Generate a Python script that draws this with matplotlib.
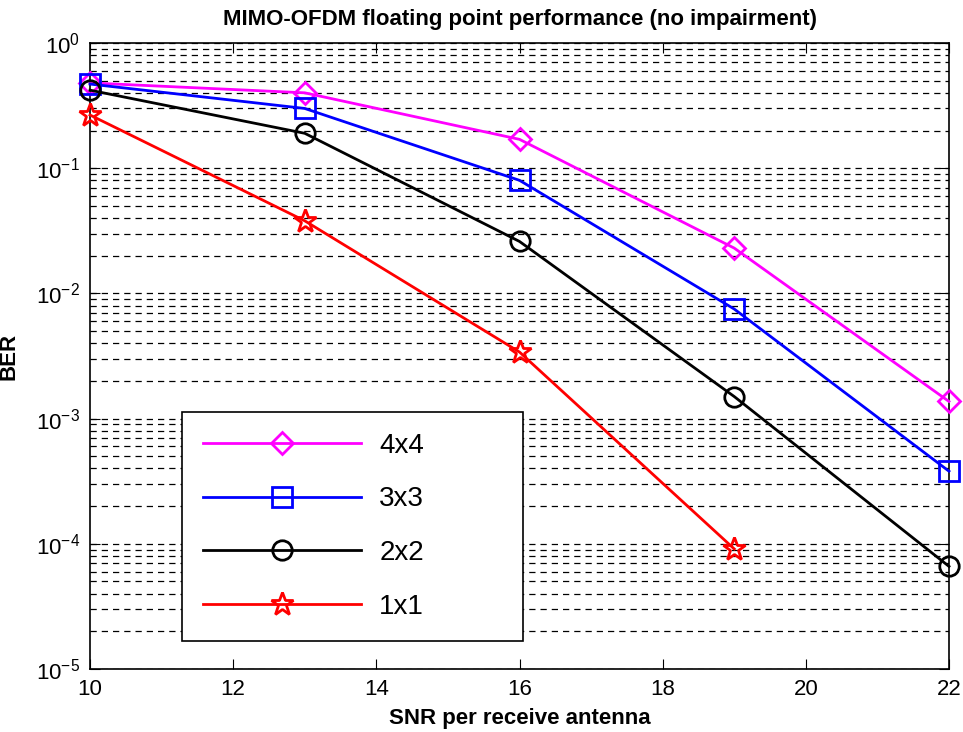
import numpy as np
import matplotlib
matplotlib.use('Agg')
import matplotlib.pyplot as plt
from matplotlib.ticker import LogLocator

plt.rcParams['font.family'] = ['Liberation Sans', 'DejaVu Sans']
plt.rcParams['mathtext.fontset'] = 'custom'
plt.rcParams['mathtext.rm'] = 'Liberation Sans'
plt.rcParams['mathtext.it'] = 'Liberation Sans'

# SNR points (dB) and BER
snr = [10, 13, 16, 19, 22]
snr_1x1 = [10, 13, 16, 19]

ber_4x4 = [0.48, 0.40, 0.17, 0.023, 1.37e-3]
ber_3x3 = [0.47, 0.30, 0.080, 0.0075, 3.8e-4]
ber_2x2 = [0.42, 0.19, 0.026, 1.5e-3, 6.6e-5]
ber_1x1 = [0.266, 0.038, 3.4e-3, 9.1e-5]

fig = plt.figure(figsize=(9.63, 7.32), dpi=100)
ax = fig.add_axes([90 / 963, 1 - 669 / 732, 859 / 963, 626 / 732])

style = dict(mfc='none', mew=2, lw=2, clip_on=False, zorder=3)
ax.semilogy(snr, ber_4x4, color='magenta', marker='D', ms=11, label='4x4', **style)
ax.semilogy(snr, ber_3x3, color='blue', marker='s', ms=14, label='3x3', **style)
ax.semilogy(snr, ber_2x2, color='black', marker='o', ms=14, label='2x2', **style)
ax.semilogy(snr_1x1, ber_1x1, color='red', marker='*', ms=17, label='1x1', **style)

ax.set_xlim(10, 22)
ax.set_ylim(1e-5, 1)
ax.set_xticks(np.arange(10, 23, 2))
ax.yaxis.set_major_locator(LogLocator(base=10, numticks=10))
ax.yaxis.set_minor_locator(LogLocator(base=10, subs=np.arange(2, 10), numticks=20))

ax.grid(True, which='both', axis='y', linestyle=(0, (5, 4)), color='black', linewidth=0.9)
ax.tick_params(which='both', direction='in', top=True, right=True, labelsize=16)
ax.tick_params(which='major', length=7, pad=7)
ax.tick_params(which='minor', length=0)
for s in ax.spines.values():
    s.set_linewidth(1.2)

ax.set_title('MIMO-OFDM floating point performance (no impairment)', fontsize=16,
             fontweight='bold', pad=13)
ax.set_xlabel('SNR per receive antenna', fontsize=16, fontweight='bold', labelpad=6)
ax.set_ylabel('BER', fontsize=16, fontweight='bold', labelpad=12)

# legend box sits at roughly x 182-523 px, y 414-641 px in the reference
leg = ax.legend(loc='lower left', bbox_to_anchor=(0.107, 0.045, 0.397, 0.362), mode='expand',
                fontsize=20, handlelength=5.7, handletextpad=0.65, labelspacing=1.0,
                borderpad=0.75, borderaxespad=0, fancybox=False, framealpha=1,
                edgecolor='black')
leg.get_frame().set_linewidth(1.2)

fig.savefig('out.png', dpi=100)
